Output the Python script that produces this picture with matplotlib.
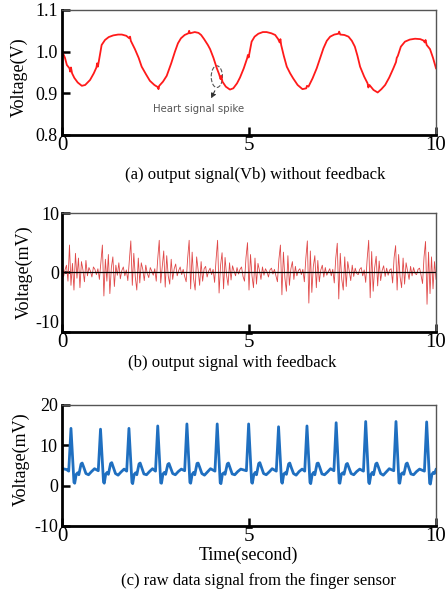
#!/usr/bin/env python3

import numpy as np
import matplotlib.pyplot as plt
from matplotlib.patches import Ellipse

################################################################################
# three stacked signal traces, 0..10 s
################################################################################

# (a) output signal Vb without feedback (V)
t_a = [0.00, 0.08, 0.13, 0.20, 0.22, 0.24, 0.27, 0.33, 0.42, 0.53, 0.62, 0.75,
       0.85, 0.92, 0.94, 0.96, 1.00, 1.06, 1.15, 1.25, 1.37, 1.50, 1.60, 1.72,
       1.80, 1.82, 1.84, 1.95, 2.05, 2.13, 2.25, 2.35, 2.47, 2.56, 2.58, 2.60,
       2.70, 2.80, 2.92, 3.02, 3.10, 3.18, 3.28, 3.38, 3.40, 3.42, 3.55, 3.65,
       3.72, 3.80, 3.90, 3.96, 4.05, 4.14, 4.20, 4.24, 4.26, 4.29, 4.38, 4.49,
       4.58, 4.68, 4.76, 4.86, 4.95, 4.97, 4.99, 5.07, 5.15, 5.25, 5.37, 5.47,
       5.60, 5.70, 5.78, 5.82, 5.84, 5.86, 5.93, 6.01, 6.10, 6.18, 6.30, 6.43,
       6.53, 6.55, 6.59, 6.70, 6.81, 6.90, 6.99, 7.08, 7.17, 7.28, 7.39, 7.41,
       7.44, 7.55, 7.66, 7.75, 7.83, 7.90, 7.97, 8.08, 8.17, 8.19, 8.22, 8.33,
       8.44, 8.54, 8.64, 8.75, 8.86, 8.93, 8.95, 8.98, 9.06, 9.17, 9.30, 9.44,
       9.58, 9.66, 9.70, 9.72, 9.75, 9.84, 9.92, 10.0]
v_a = [1.002, 0.985, 0.968, 0.960, 0.952, 0.962, 0.948, 0.937, 0.926, 0.918, 0.920, 0.932,
       0.948, 0.962, 0.972, 0.964, 0.985, 1.016, 1.028, 1.035, 1.039, 1.041, 1.041, 1.038,
       1.032, 1.036, 1.026, 1.006, 0.985, 0.964, 0.945, 0.930, 0.920, 0.915, 0.910, 0.918,
       0.928, 0.942, 0.972, 1.000, 1.020, 1.032, 1.040, 1.044, 1.050, 1.044, 1.047, 1.045,
       1.040, 1.030, 1.016, 1.006, 0.985, 0.960, 0.946, 0.934, 0.942, 0.928, 0.916, 0.909,
       0.912, 0.924, 0.938, 0.960, 0.984, 0.992, 0.986, 1.024, 1.036, 1.043, 1.047, 1.047,
       1.044, 1.040, 1.030, 1.022, 1.030, 1.016, 0.990, 0.964, 0.948, 0.936, 0.920, 0.910,
       0.912, 0.918, 0.916, 0.936, 0.960, 0.984, 1.008, 1.026, 1.036, 1.041, 1.043, 1.048,
       1.041, 1.040, 1.036, 1.026, 1.012, 0.990, 0.964, 0.940, 0.924, 0.914, 0.920, 0.908,
       0.902, 0.910, 0.920, 0.938, 0.960, 0.975, 0.985, 0.990, 1.012, 1.024, 1.029, 1.031,
       1.030, 1.027, 1.022, 1.028, 1.016, 1.006, 0.985, 0.960]

# (b) output signal with feedback (mV), evenly sampled over 0..10 s
v_b = [1.6, -0.8, 0.4, 1.2, -1.5,
       4.6, -2.2, 1.5, -3.0, 3.2, -1.0, 2.4, -2.6, 1.8, 0.4, -1.6, 2.0, -0.6, 0.8, 0.2,
       -0.8, 0.9, 0.5, -0.4, 0.6, -1.2, 1.8,
       4.6, -4.0, 2.2, -1.5, 3.0, -3.6, 0.8, 2.6, -2.4, 1.2, -0.5, 1.6, -1.1, 0.3, 0.9,
       -0.6, 0.4, -1.4, 2.0,
       5.3, -2.2, 3.2, -0.8, -3.0, 2.4, -1.8, 1.6, 0.5, -1.4, 1.2, -0.2, -0.9, 0.8, 0.2,
       -0.5, 0.6, -1.5, 2.3,
       5.4, -1.8, 1.0, 3.6, -2.5, 2.8, -0.6, -2.0, 2.2, -1.2, 0.6, 1.4, -0.6, 0.3, 0.9,
       -0.4, 0.5, -0.7, -1.6, 2.4,
       5.4, -2.8, 3.4, -1.2, -3.0, 2.6, 0.4, -2.2, 1.8, -1.5, 0.6, 1.0, -0.8, 0.2, 0.7,
       -0.4, 0.5, -1.7, 2.2,
       5.4, -3.5, 1.2, 3.3, -2.8, 2.5, -0.5, -2.2, 1.6, -1.3, 1.1, 0.2, -0.6, 0.8, -0.3,
       0.5, 0.9, -0.7, -1.5, 2.5,
       5.0, -3.0, 3.0, -0.6, -2.6, 2.4, -2.0, 1.5, 0.3, -1.2, 0.9, -0.5, 0.6, 0.1, -0.8,
       0.4, 0.7, -0.3, 0.5, -0.6, -1.6, 2.2,
       4.6, -3.8, 3.4, -1.0, -3.2, 2.8, -2.2, 0.6, 1.8, -1.2, 1.0, -0.6, 0.3, 0.6, -0.4,
       0.5, -1.6, 2.4,
       5.3, -5.2, 3.6, -3.4, 1.0, 2.8, -2.6, 2.0, -1.6, 0.4, 1.2, -0.8, 0.8, -0.5, 0.1,
       0.6, -0.6, 0.5, -1.8, 2.4,
       4.9, -4.5, 3.2, -1.2, -3.0, 2.6, -2.4, 1.8, 0.2, -1.4, 1.2, -0.7, 0.7, -0.2, -0.4,
       0.5, 0.8, -0.6, 0.4, -1.7, 2.3,
       5.4, -4.3, 3.5, -3.2, 0.8, 2.7, -2.3, 1.9, -1.4, 0.3, 1.1, -0.7, 0.7, -0.5, 0.4,
       0.6, -1.8, 2.5,
       4.5, -3.0, 3.0, -0.8, -2.6, 2.4, -2.0, 1.6, 0.2, -1.2, 1.0, -0.6, 0.8, -0.2, -0.4,
       0.5, 0.7, -0.5, -1.9, 2.6,
       5.2, -5.4, 3.4, -3.6, 2.6, -2.8, 1.8, -1.2]

# (c) raw data signal from the finger sensor (mV)
t_c = [0.02, 0.12,
       0.18, 0.24, 0.32, 0.34, 0.38, 0.42, 0.45, 0.51, 0.54, 0.58, 0.64, 0.71, 0.79, 0.87,
       0.97, 1.03, 1.11, 1.13, 1.17, 1.21, 1.24, 1.30, 1.33, 1.37, 1.43, 1.50, 1.58, 1.66,
       1.73, 1.79, 1.87, 1.89, 1.93, 1.97, 2.00, 2.06, 2.09, 2.13, 2.19, 2.26, 2.34, 2.42,
       2.50, 2.56, 2.64, 2.66, 2.70, 2.74, 2.77, 2.83, 2.86, 2.90, 2.96, 3.03, 3.11, 3.19,
       3.28, 3.34, 3.42, 3.44, 3.48, 3.52, 3.55, 3.61, 3.64, 3.68, 3.74, 3.81, 3.89, 3.97,
       4.09, 4.15, 4.23, 4.25, 4.29, 4.33, 4.36, 4.42, 4.45, 4.49, 4.55, 4.62, 4.70, 4.78,
       4.93, 4.99, 5.07, 5.09, 5.13, 5.17, 5.20, 5.26, 5.29, 5.33, 5.39, 5.46, 5.54, 5.62,
       5.73, 5.79, 5.87, 5.89, 5.93, 5.97, 6.00, 6.06, 6.09, 6.13, 6.19, 6.26, 6.34, 6.42,
       6.49, 6.55, 6.63, 6.65, 6.69, 6.73, 6.76, 6.82, 6.85, 6.89, 6.95, 7.02, 7.10, 7.18,
       7.27, 7.33, 7.41, 7.43, 7.47, 7.51, 7.54, 7.60, 7.63, 7.67, 7.73, 7.80, 7.88, 7.96,
       8.06, 8.12, 8.20, 8.22, 8.26, 8.30, 8.33, 8.39, 8.42, 8.46, 8.52, 8.59, 8.67, 8.75,
       8.87, 8.93, 9.01, 9.03, 9.07, 9.11, 9.14, 9.20, 9.23, 9.27, 9.33, 9.40, 9.48, 9.56,
       9.69, 9.75, 9.83, 9.85, 9.89, 9.93, 9.96, 10.0]
v_c = [4.2, 4.0,
       3.6, 14.2, 0.8, 0.6, 2.8, 3.2, 2.7, 5.4, 5.6, 4.6, 3.0, 2.7, 3.5, 4.2,
       3.7, 14.0, 0.9, 0.6, 2.9, 3.3, 2.8, 5.5, 5.7, 4.6, 3.0, 2.6, 3.4, 4.1,
       3.6, 14.2, 0.8, 0.5, 2.8, 3.2, 2.7, 5.4, 5.6, 4.5, 2.9, 2.7, 3.5, 4.2,
       3.6, 14.8, 0.7, 0.6, 2.9, 3.3, 2.8, 5.3, 5.5, 4.5, 3.0, 2.7, 3.5, 4.1,
       3.7, 15.3, 0.8, 0.6, 2.8, 3.3, 2.7, 5.5, 5.6, 4.6, 3.0, 2.6, 3.4, 4.2,
       3.6, 15.3, 0.7, 0.5, 2.9, 3.2, 2.8, 5.4, 5.6, 4.5, 2.9, 2.7, 3.5, 4.1,
       3.7, 15.3, 0.8, 0.6, 2.8, 3.3, 2.7, 5.5, 5.7, 4.6, 3.0, 2.7, 3.4, 4.2,
       3.6, 14.6, 0.9, 0.6, 2.9, 3.2, 2.8, 5.4, 5.6, 4.5, 3.0, 2.6, 3.5, 4.1,
       3.6, 14.8, 0.8, 0.5, 2.8, 3.3, 2.7, 5.5, 5.6, 4.6, 2.9, 2.7, 3.4, 4.2,
       3.7, 15.6, 0.7, 0.6, 2.9, 3.2, 2.8, 5.3, 5.5, 4.5, 3.0, 2.7, 3.5, 4.1,
       3.6, 15.9, 0.8, 0.5, 2.8, 3.3, 2.7, 5.4, 5.6, 4.6, 3.0, 2.6, 3.4, 4.2,
       3.7, 15.9, 0.7, 0.6, 2.9, 3.2, 2.8, 5.4, 5.6, 4.5, 2.9, 2.7, 3.5, 4.1,
       3.6, 15.8, 0.6, 0.4, 2.8, 3.3, 3.0, 4.0]

x_ticks = [0, 5, 10]

plt.rcParams['font.family'] = ['Liberation Serif', 'DejaVu Serif']

fig = plt.figure(figsize=(4.46, 5.90), dpi=100)

def style_axes(ax, ylim, yticks, ylabel, label_x, label_y, ytick_fmt):
   ax.set_xlim(0, 10)
   ax.set_ylim(*ylim)
   ax.set_xticks(x_ticks)
   ax.set_xticklabels([str(x) for x in x_ticks], fontsize=15)
   ax.set_yticks(yticks)
   ax.set_yticklabels([ytick_fmt % y for y in yticks], fontsize=13)
   for s in ['left', 'bottom']:
      ax.spines[s].set_linewidth(2.0)
      ax.spines[s].set_color('black')
   for s in ['top', 'right']:
      ax.spines[s].set_linewidth(1.0)
      ax.spines[s].set_color('#555555')
   ax.tick_params(direction='in', length=6, width=1.8, color='black')
   ax.tick_params(axis='x', pad=1)
   ax.tick_params(axis='y', pad=3)
   ax.set_ylabel(ylabel, fontsize=13)
   ax.yaxis.set_label_coords(label_x, label_y)

# (a)
ax1 = fig.add_axes([0.139, 0.7712, 0.8386, 0.2119])
ax1.plot(t_a, v_a, color='#ff1a1a', lw=1.3)
style_axes(ax1, (0.8, 1.1), [0.8, 0.9, 1.0, 1.1], 'Voltage(V)', -0.092, 0.46, '%.1f')
ax1.add_patch(Ellipse((4.14, 0.94), 0.30, 0.052, fill=False, ls='--', lw=0.8, ec='#555555'))
ax1.annotate('', xy=(3.95, 0.882), xytext=(4.12, 0.912),
             arrowprops=dict(arrowstyle='-|>', ls='--', lw=0.8, color='#333333', mutation_scale=7))
ax1.text(3.64, 0.862, 'Heart signal spike', fontsize=7.3, color='#555555',
         family='DejaVu Sans', ha='center', va='center')

# (b)
ax2 = fig.add_axes([0.139, 0.4381, 0.8386, 0.2008])
t_b = np.linspace(0, 10, len(v_b))
ax2.plot(t_b, v_b, color='#e04848', lw=0.6)
ax2.axhline(0, color='black', lw=0.9)
style_axes(ax2, (-10, 10), [-10, 0, 10], 'Voltage(mV)', -0.078, 0.50, '%d')
ax2.tick_params(axis='y', pad=2)
# lift the bottom y label a little so it clears the "0" below the axis
ax2.get_yticklabels()[0].set_va('bottom')

# (c)
ax3 = fig.add_axes([0.139, 0.1085, 0.8386, 0.2051])
ax3.plot(t_c, v_c, color='#1f6fc0', lw=2.0)
style_axes(ax3, (-10, 20), [-10, 0, 10, 20], 'Voltage(mV)', -0.086, 0.55, '%d')

fig.text(255/446, 1 - 175/590, '(a) output signal(Vb) without feedback', fontsize=12, ha='center', va='center')
fig.text(232/446, 1 - 363/590, '(b) output signal with feedback', fontsize=12, ha='center', va='center')
fig.text(248/446, 1 - 555/590, 'Time(second)', fontsize=13, ha='center', va='center')
fig.text(258/446, 1 - 581/590, '(c) raw data signal from the finger sensor', fontsize=12, ha='center', va='center')

fig.savefig('out.png', dpi=100, facecolor='w')
